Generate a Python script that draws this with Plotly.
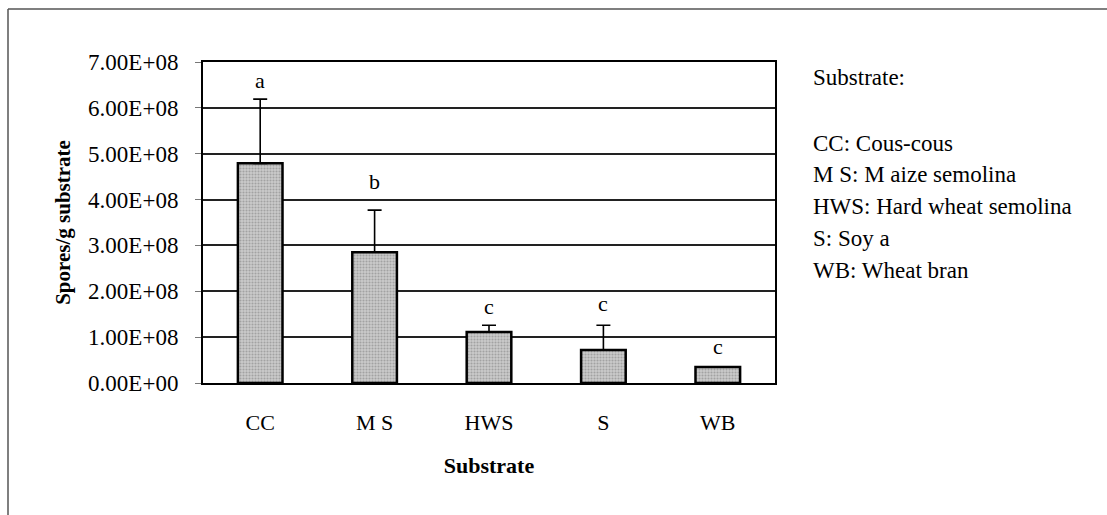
import plotly.graph_objects as go

# Spore yield per gram of substrate (mean with upper error)
substrates = ["CC", "MS", "HWS", "S", "WB"]
tick_text = ["CC", "M S", "HWS", "S", "WB"]
spores_mean = [4.79e8, 2.85e8, 1.11e8, 0.72e8, 0.35e8]
spores_err = [1.40e8, 0.92e8, 0.15e8, 0.54e8, 0.0]
group_letters = ["a", "b", "c", "c", "c"]
y_ticks = [0, 1e8, 2e8, 3e8, 4e8, 5e8, 6e8, 7e8]
y_tick_text = ["0.00E+00", "1.00E+08", "2.00E+08", "3.00E+08",
               "4.00E+08", "5.00E+08", "6.00E+08", "7.00E+08"]
key_title = "Substrate:"
key_lines = ["CC: Cous-cous", "M S: M aize semolina", "HWS: Hard wheat semolina",
             "S: Soy a", "WB: Wheat bran"]

FONT = "Liberation Serif"
W, H = 1107, 515
L, R, T, B = 203, 775, 62, 383  # plot area in pixels

fig = go.Figure()
fig.add_trace(go.Bar(
    x=substrates, y=spores_mean, width=0.39,
    marker=dict(color="#c4c4c4", line=dict(color="black", width=2.5),
                pattern=dict(shape=".", size=3, solidity=0.4,
                             fgcolor="#7a7a7a", bgcolor="#cbcbcb")),
    error_y=dict(type="data", array=spores_err, arrayminus=[0] * len(spores_err),
                 symmetric=False, color="black", thickness=1.6, width=7),
    showlegend=False,
))

# significance letters above each bar
letter_shift = [19, 29, 19, 22, 20]
for xs, m, e, lt, sh in zip(substrates, spores_mean, spores_err, group_letters, letter_shift):
    fig.add_annotation(x=xs, y=m + e, text=lt, showarrow=False, yshift=sh,
                       font=dict(family=FONT, size=22, color="black"))

# key text on the right
def py(p):
    return (B - p) / (B - T)

def px(p):
    return (p - L) / (R - L)

fig.add_annotation(x=px(811), y=py(77), xref="paper", yref="paper", text=key_title,
                   showarrow=False, xanchor="left", yanchor="middle",
                   font=dict(family=FONT, size=23, color="black"))
for i, line in enumerate(key_lines):
    fig.add_annotation(x=px(811), y=py(143 + 31.8 * i), xref="paper", yref="paper",
                       text=line, showarrow=False, xanchor="left", yanchor="middle",
                       font=dict(family=FONT, size=23, color="black"))

# outer frame: top and left edges
fig.add_shape(type="line", xref="paper", yref="paper", x0=px(8), x1=px(W), y0=py(9), y1=py(9),
              line=dict(color="#555555", width=1.5))
fig.add_shape(type="line", xref="paper", yref="paper", x0=px(8), x1=px(8), y0=py(9), y1=py(H),
              line=dict(color="#555555", width=1.5))

fig.update_layout(
    width=W, height=H,
    margin=dict(l=L, r=W - R, t=T, b=H - B),
    paper_bgcolor="white", plot_bgcolor="white",
    font=dict(family=FONT, size=22, color="black"),
    bargap=0.6,
)
fig.update_xaxes(
    tickvals=substrates, ticktext=tick_text, showgrid=False,
    showline=True, linecolor="black", linewidth=2, mirror=True,
    ticks="", ticklabelstandoff=19,
    tickfont=dict(family=FONT, size=22),
    title=dict(text="<b>Substrate</b>", font=dict(family=FONT, size=22), standoff=23),
)
fig.update_yaxes(
    range=[0, 7e8], tickvals=y_ticks, ticktext=y_tick_text,
    showgrid=True, gridcolor="#222222", gridwidth=1.6,
    showline=True, linecolor="black", linewidth=2, mirror=True,
    ticks="outside", ticklen=6, tickcolor="#777777", tickwidth=1,
    ticklabelstandoff=12,
    tickfont=dict(family=FONT, size=23),
    title=dict(text="<b>Spores/g substrate</b>", font=dict(family=FONT, size=21), standoff=12),
    zeroline=False,
)

fig.write_html("out.html")
